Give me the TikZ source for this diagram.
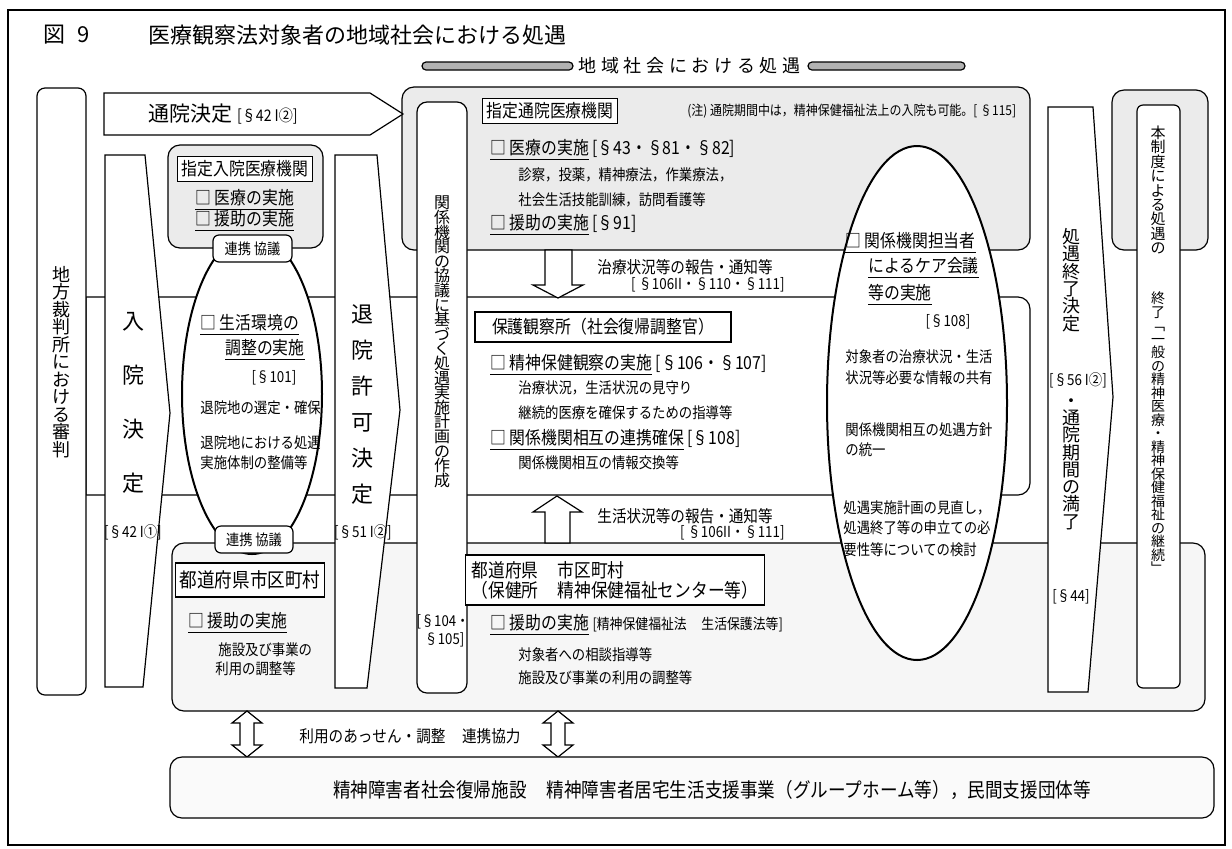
\documentclass[tikz,border=0pt]{standalone}
\usepackage{fontspec}
\newfontfamily\jp{Noto Sans CJK JP}
\newfontfamily\jpc[FakeStretch=0.88]{Noto Sans CJK JP}
\newfontfamily\jpb[LetterSpace=26]{Noto Sans CJK JP}
\makeatletter
\newcommand\vt[2]{\vbox{\baselineskip=#1\lineskiplimit=-20pt\lineskip=0pt\@tfor\vt@c:=#2\do{\hbox to 1.1em{\hss\vt@c\hss}}}}
\makeatother
\begin{document}
\begin{tikzpicture}[x=0.5pt,y=-0.5pt,
  ln/.style={line width=0.6pt},
  gbox/.style={draw,ln,fill=gray!16,rounded corners=5pt},
  wcol/.style={draw,ln,fill=white},
  ell/.style={draw,line width=1pt,fill=white},
  tb/.style={draw,ln,fill=white,inner sep=2pt,font=\jpc\fontsize{9}{11}\selectfont},
  tx/.style={font=\jpc\fontsize{9}{10}\selectfont,inner sep=0pt,anchor=west},
  sx/.style={font=\jpc\fontsize{7.6}{9}\selectfont,inner sep=0pt,anchor=west},
  rx/.style={font=\jpc\fontsize{7.6}{9}\selectfont,inner sep=0pt,anchor=east},
  cx/.style={font=\jpc\fontsize{7.6}{9}\selectfont,inner sep=0pt},
  vcol/.style={inner sep=0pt,font=\jp\fontsize{11}{11}\selectfont},
  harrow/.style={draw,ln,fill=white},
]
\useasboundingbox (0,0) rectangle (1232,848);
\fill[white] (0,0) rectangle (1232,848);
\draw[ln] (8,10) rectangle (1225,845);

% title
\node[font=\jp\fontsize{11}{13}\selectfont,anchor=west,inner sep=0pt] (fig) at (43,35) {図\hspace{6pt}9};
\node[font=\jp\fontsize{11}{13}\selectfont,anchor=west,inner sep=0pt] (title) at (148,35) {医療観察法対象者の地域社会における処遇};
\draw[ln,fill=gray!60,rounded corners=2pt] (422,62) rectangle (573,70);
\draw[ln,fill=gray!60,rounded corners=2pt] (808,62) rectangle (965,70);
\node[font=\jpb\fontsize{9}{11}\selectfont,anchor=west,inner sep=0pt] (band) at (578,66) {地域社会における処遇};

% background regions
\draw[gbox,rounded corners=6pt] (402,87) rectangle (1030,250);
\draw[gbox,rounded corners=6pt] (1112,90) rectangle (1208,250);
\draw[ln,fill=white] (86,297) [rounded corners=6pt] -- (1030,297) -- (1030,495) [sharp corners] -- (86,495) -- cycle;
\draw[ln,fill=gray!7,rounded corners=6pt] (172,543) rectangle (1205,711);

% left court box
\draw[wcol,rounded corners=4pt] (37,88) rectangle (86,695);
\node[inner sep=0pt,font=\jp\fontsize{9}{9}\selectfont] (court) at (61,362) {\vt{8.75pt}{地方裁判所における審判}};

% 通院決定 arrow
\draw[wcol] (104,93) -- (370,93) -- (403,114) -- (370,135) -- (104,135) -- cycle;
\node[anchor=west,inner sep=0pt] (tsuin) at (148,114) {\jp\fontsize{10.5}{12}\selectfont 通院決定 \jpc\fontsize{8}{10}\selectfont [§42 I②]};

% columns
\draw[wcol] (105,155) -- (145,155) -- (170,413) -- (143,687) -- (105,687) -- cycle;
\node[vcol] (nyuin) at (133,403) {\vt{27pt}{入院決定}};
\node[cx] (s42) at (133,532) {[§42 I①]};

\draw[wcol] (335,155) -- (377,155) -- (400,410) -- (367,688) -- (335,688) -- cycle;
\node[vcol] (taiin) at (362,405) {\vt{18pt}{退院許可決定}};
\node[cx] (s51) at (363,532) {[§51 I②]};

\draw[wcol,rounded corners=5pt] (417,102) rectangle (467,693);
\node[inner sep=0pt,font=\jp\fontsize{8}{8}\selectfont] (plan) at (442,342) {\vt{7.3pt}{関係機関の協議に基づく処遇実施計画の作成}};
\node[font=\jpc\fontsize{7.5}{9}\selectfont,align=center,inner sep=0pt] (s104) at (443,631) {[§104・\\\ §105]};

\draw[wcol] (1048,107) -- (1093,107) -- (1113,397) -- (1088,692) -- (1048,692) -- cycle;
\node[inner sep=0pt,font=\jp\fontsize{9}{9}\selectfont] (shuryo) at (1071,280) {\vt{8.65pt}{処遇終了決定}};
\node[cx] (s56) at (1078,380) {[§56 I②]};
\node[inner sep=0pt,font=\jp\fontsize{9}{9}\selectfont] (manryo) at (1071,464) {\vt{8.65pt}{・通院期間の満了}};
\node[cx] (s44) at (1071,597) {[§44]};

\draw[wcol,rounded corners=3pt] (1137,105) rectangle (1180,688);
\node[inner sep=0pt,font=\jp\fontsize{7.5}{7.5}\selectfont] (hon1) at (1158,190) {\vt{7.2pt}{本制度による処遇の}};
\node[inner sep=0pt,font=\jp\fontsize{7}{7}\selectfont] (hon2) at (1158,433) {\vt{6.75pt}{終了﹁一般の精神医療・精神保健福祉の継続﹂}};

% 指定入院医療機関
\draw[ell] (252,394) ellipse [x radius=70, y radius=160];
\draw[gbox,rounded corners=6pt] (168,145) rectangle (323,248);
\node[tb] (nyuinkikan) at (245,169) {指定入院医療機関};
\node[tx] (n1) at (195,200) {\underline{□ 医療の実施}};
\node[tx] (n2) at (195,221) {\underline{□ 援助の実施}};
\node[draw,ln,fill=white,rounded corners=3pt,minimum width=39.5pt,minimum height=13.5pt,inner sep=0pt,font=\jpc\fontsize{7.5}{9}\selectfont] (renkei1) at (252.5,248.5) {連携 協議};
\node[draw,ln,fill=white,rounded corners=3pt,minimum width=39pt,minimum height=13.5pt,inner sep=0pt,font=\jpc\fontsize{7.5}{9}\selectfont] (renkei2) at (254,539.5) {連携 協議};
\node[tx] (e1a) at (200,325) {\underline{□ 生活環境の}};
\node[tx,anchor=east] (e1b) at (305,350) {\underline{調整の実施}};
\node[cx] (e1c) at (274,378) {[§101]};
\node[sx] (e1d) at (200,408) {退院地の選定・確保};
\node[sx] (e1e) at (200,443) {退院地における処遇};
\node[sx] (e1f) at (200,463) {実施体制の整備等};

% 指定通院医療機関 contents
\node[tb] (tsuinkikan) at (550,111) {指定通院医療機関};
\node[font=\jpc\fontsize{6.8}{8}\selectfont,anchor=west,inner sep=0pt] (note) at (687,111) {(注) 通院期間中は，精神保健福祉法上の入院も可能。[ §115]};
\node[tx] (t1) at (490,150) {\underline{□ 医療の実施} [§43・§81・§82]};
\node[sx] (t2) at (518,175) {診察，投薬，精神療法，作業療法，};
\node[sx] (t3) at (518,200) {社会生活技能訓練，訪問看護等};
\node[tx] (t4) at (490,225) {\underline{□ 援助の実施} [§91]};

% down arrow
\draw[harrow] (545,250) -- (572,250) -- (572,285) -- (583,285) -- (558,298) -- (533,285) -- (545,285) -- cycle;
\node[font=\jpc\fontsize{8.3}{10}\selectfont,anchor=west,inner sep=0pt] (rep1) at (597,267) {治療状況等の報告・通知等};
\node[rx] (rep1s) at (785,285) {[ §106II・§110・§111]};

% 保護観察所
\node[tb,minimum width=128pt,minimum height=15pt] (hogo) at (603,327) {保護観察所（社会復帰調整官）};
\node[tx] (h1) at (490,365) {\underline{□ 精神保健観察の実施} [§106・§107]};
\node[sx] (h2) at (518,388) {治療状況，生活状況の見守り};
\node[sx] (h3) at (518,413) {継続的医療を確保するための指導等};
\node[tx] (h4) at (490,440) {\underline{□ 関係機関相互の連携確保} [§108]};
\node[sx] (h5) at (518,463) {関係機関相互の情報交換等};

% up arrow
\draw[harrow] (545,543) -- (570,543) -- (570,512) -- (582,512) -- (557,496) -- (533,512) -- (545,512) -- cycle;
\node[font=\jpc\fontsize{8.3}{10}\selectfont,anchor=west,inner sep=0pt] (rep2) at (597,516) {生活状況等の報告・通知等};
\node[rx] (rep2s) at (785,533) {[ §106II・§111]};

% 都道府県 市区町村 (保健所…)
\node[draw,ln,fill=white,inner sep=3pt,align=left,font=\jpc\fontsize{9.5}{10}\selectfont,minimum width=138pt,minimum height=25pt] (pref) at (615,580) {都道府県\quad 市区町村\\（保健所\quad 精神保健福祉センター等）};
\node[tx] (p1) at (490,625) {\underline{□ 援助の実施} {\fontsize{7.3}{9}\selectfont [精神保健福祉法\quad 生活保護法等]}};
\node[sx] (p2) at (518,655) {対象者への相談指導等};
\node[sx] (p3) at (518,678) {施設及び事業の利用の調整等};

% 都道府県市区町村 (left)
\node[tb,minimum width=73pt,minimum height=17pt,font=\jpc\fontsize{10}{12}\selectfont] (pref2) at (250,580) {都道府県市区町村};
\node[tx] (q1) at (188,623) {\underline{□ 援助の実施}};
\node[sx] (q2) at (218,650) {施設及び事業の};
\node[sx] (q3) at (215,669) {利用の調整等};

% care meeting ellipse
\draw[ell] (917,403) ellipse [x radius=90, y radius=257];
\node[tx] (c1) at (845,243) {\underline{□ 関係機関担当者}};
\node[tx] (c2) at (868,268) {\underline{によるケア会議}};
\node[tx] (c3) at (868,295) {\underline{等の実施}};
\node[cx] (c4) at (948,322) {[§108]};
\node[sx] (c5) at (845,357) {対象者の治療状況・生活};
\node[sx] (c6) at (845,378) {状況等必要な情報の共有};
\node[sx] (c7) at (845,430) {関係機関相互の処遇方針};
\node[sx] (c8) at (845,450) {の統一};
\node[sx] (c9) at (843,508) {処遇実施計画の見直し，};
\node[sx] (c10) at (843,528) {処遇終了等の申立ての必};
\node[sx] (c11) at (843,550) {要性等についての検討};

% bottom double arrows
\foreach \cxx in {247,558}{
  \draw[harrow] (\cxx,711) -- (\cxx+15,723) -- (\cxx+7,723) -- (\cxx+7,745) -- (\cxx+15,745) -- (\cxx,757) -- (\cxx-15,745) -- (\cxx-7,745) -- (\cxx-7,723) -- (\cxx-15,723) -- cycle;
}
\node[font=\jpc\fontsize{8.3}{10}\selectfont,inner sep=0pt] (riyo) at (410,736) {利用のあっせん・調整\quad 連携協力};

% bottom box
\draw[ln,fill=gray!4,rounded corners=6pt] (170,757) rectangle (1214,818);
\node[font=\jpc\fontsize{10}{12}\selectfont,inner sep=0pt] (fac) at (712,790) {精神障害者社会復帰施設\quad 精神障害者居宅生活支援事業（グループホーム等），民間支援団体等};
\end{tikzpicture}
\end{document}
